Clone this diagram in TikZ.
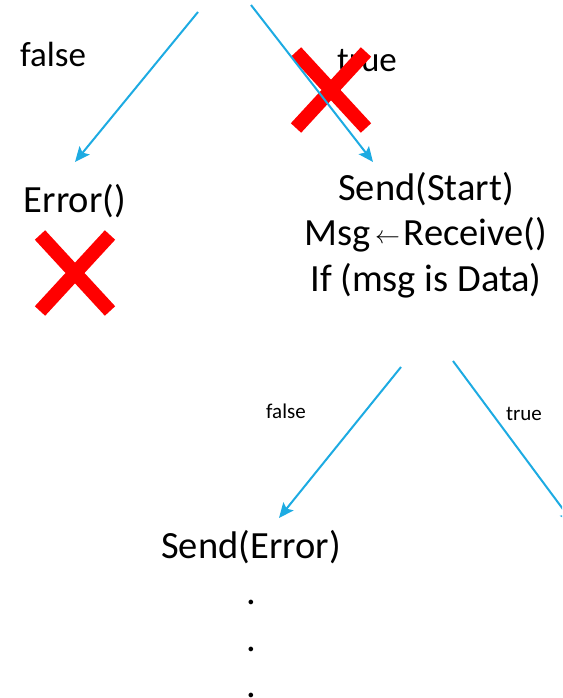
\documentclass[tikz,border=0pt]{standalone}
\usepackage{fontspec}
\setmainfont{Carlito}
\usetikzlibrary{arrows.meta}
\definecolor{flowblue}{RGB}{29,171,226}
\tikzset{
  flow/.style={draw=flowblue, line width=2pt,
    -{Stealth[length=15pt,width=13pt,inset=3pt]}},
  lbl/.style={font=\fontsize{35}{40}\selectfont, inner sep=0pt},
  small/.style={font=\fontsize{21}{25}\selectfont, inner sep=0pt},
  stmt/.style={font=\fontsize{38.5}{45.3}\selectfont, inner sep=0pt, align=center},
  cross/.style={draw=red, line width=14pt, line cap=butt},
}
\begin{document}
\begin{tikzpicture}[x=1pt,y=-1pt]
\useasboundingbox (0,0) rectangle (562,698);
\clip (0,0) rectangle (562,698);

% branch labels
\node[lbl, anchor=base] (f1) at (53,67) {false};
\node[lbl, anchor=base] (t1) at (367,72) {true};
\node[small, anchor=base] (f2) at (286,418) {false};
\node[small, anchor=base] (t2) at (524,420) {true};

% statements
\node[stmt, anchor=base] (err) at (75,212) {Error()};
\node[stmt] (recv) at (426,235) {Send(Start)\\
  Msg\kern4pt{\fontsize{25}{25}\selectfont\raisebox{2.5pt}{$\leftarrow$}}\kern4pt Receive()\\
  If (msg is Data)};
\node[stmt, font=\fontsize{38.5}{46.5}\selectfont] (senderr) at (251,614)
  {Send(Error)\\.\\.\\.};

% rejected branches
\draw[cross] (331,90) ++(-35,-38) -- ++(70,76) (331,90) ++(35,-38) -- ++(-70,76);
\draw[cross] (75,273) ++(-35,-38) -- ++(70,76) (75,273) ++(35,-38) -- ++(-70,76);

% connectors
\coordinate (a1s) at (198,12);  \coordinate (a1e) at (75,162);
\coordinate (a2s) at (251,5);   \coordinate (a2e) at (373,162);
\coordinate (a3s) at (401,367); \coordinate (a3e) at (279,518);
\coordinate (a4s) at (453,361); \coordinate (a4e) at (574,524);
\draw[flow] (a1s) -- (a1e);
\draw[flow] (a2s) -- (a2e);
\draw[flow] (a3s) -- (a3e);
\draw[flow] (a4s) -- (a4e);
\end{tikzpicture}
\end{document}
